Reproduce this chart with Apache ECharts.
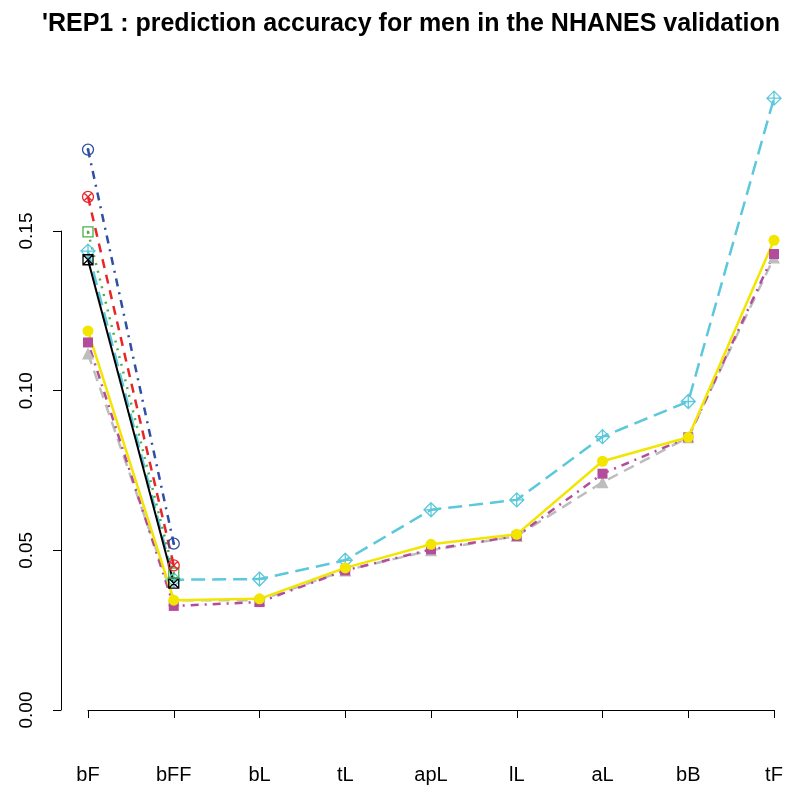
<!DOCTYPE html>
<html>
<head>
<meta charset="utf-8">
<script src="https://cdn.jsdelivr.net/npm/echarts@6/dist/echarts.min.js"></script>
<style>
  html, body { margin: 0; padding: 0; background: #fff; }
  #chart { width: 803px; height: 787px; }
</style>
</head>
<body>
<div id="chart"></div>
<script>
// categories and y ticks
var categories = ['bF', 'bFF', 'bL', 'tL', 'apL', 'lL', 'aL', 'bB', 'tF'];
var yTicks = [0, 0.05, 0.10, 0.15];

// series (short ones only reach bFF)
var blueVals    = [0.1755, 0.0521];
var redVals     = [0.1607, 0.0453];
var greenVals   = [0.1497, 0.0429];
var blackVals   = [0.1410, 0.0397];
var cyanVals    = [0.1437, 0.0408, 0.0410, 0.0469, 0.0627, 0.0658, 0.0856, 0.0966, 0.1916];
var grayVals    = [0.1116, 0.0344, 0.0344, 0.0437, 0.0500, 0.0545, 0.0713, 0.0854, 0.1417];
var magentaVals = [0.1151, 0.0326, 0.0338, 0.0437, 0.0503, 0.0545, 0.0740, 0.0854, 0.1428];
var yellowVals  = [0.1187, 0.0344, 0.0348, 0.0445, 0.0519, 0.0550, 0.0779, 0.0854, 0.1471];

// hollow R-like symbols
var symCircleDot = 'path://M0,10A10,10 0 1,1 20,10A10,10 0 1,1 0,10Z M8.5,10A1.5,1.5 0 1,1 11.5,10A1.5,1.5 0 1,1 8.5,10Z';
var symCircleX   = 'path://M0,10A10,10 0 1,1 20,10A10,10 0 1,1 0,10Z M2.93,2.93L17.07,17.07 M17.07,2.93L2.93,17.07';
var symSquareDot = 'path://M0,0H20V20H0Z M9,9H11V11H9Z';
var symDiamondPlus = 'path://M10,0L20,10L10,20L0,10Z M10,0V20 M0,10H20';
var symSquareX   = 'path://M0,0H20V20H0Z M0,0L20,20 M20,0L0,20';

function hollow(name, data, color, dash, symbol, size, width) {
    return {
        name: name,
        type: 'line',
        data: data,
        clip: false,
        symbol: symbol,
        symbolSize: size,
        showAllSymbol: true,
        lineStyle: { color: color, width: width || 2.5, type: dash },
        itemStyle: { color: 'rgba(0,0,0,0)', borderColor: color, borderWidth: 1.3 },
        emphasis: { disabled: true }
    };
}

function filled(name, data, color, dash, symbol, size) {
    return {
        name: name,
        type: 'line',
        data: data,
        clip: false,
        symbol: symbol,
        symbolSize: size,
        showAllSymbol: true,
        lineStyle: { color: color, width: 2.5, type: dash },
        itemStyle: { color: color, borderWidth: 0 },
        emphasis: { disabled: true }
    };
}

var chart = echarts.init(document.getElementById('chart'));

chart.setOption({
    animation: false,
    title: {
        text: "'REP1 : prediction accuracy for men in the NHANES validation",
        left: 37,
        top: 7,
        textStyle: {
            fontFamily: 'Liberation Sans, Arial, sans-serif',
            fontWeight: 'bold',
            fontSize: 25,
            color: '#000'
        }
    },
    grid: { left: 88, right: 29, top: 231, bottom: 77 },
    xAxis: {
        type: 'category',
        data: categories,
        boundaryGap: false,
        offset: 24,
        axisLine: { show: true, lineStyle: { color: '#000', width: 1 } },
        axisTick: { show: true, length: 8, inside: false, lineStyle: { color: '#000' } },
        axisLabel: {
            margin: 31,
            fontFamily: 'Liberation Sans, Arial, sans-serif',
            fontSize: 20,
            color: '#000'
        },
        splitLine: { show: false }
    },
    yAxis: {
        type: 'value',
        min: yTicks[0],
        max: yTicks[yTicks.length - 1],
        interval: 0.05,
        offset: 27,
        axisLine: { show: true, lineStyle: { color: '#000', width: 1 } },
        axisTick: { show: true, length: 8, lineStyle: { color: '#000' } },
        axisLabel: {
            rotate: 90,
            margin: 25,
            fontFamily: 'Liberation Sans, Arial, sans-serif',
            fontSize: 19,
            color: '#000',
            formatter: function (v) { return v.toFixed(2); }
        },
        splitLine: { show: false }
    },
    series: [
        hollow('cyan', cyanVals, '#5BC8DB', [14, 7], symDiamondPlus, 14),
        hollow('black', blackVals, '#000000', 'solid', symSquareX, 10, 2),
        hollow('green', greenVals, '#4DAF4A', [2, 6], symSquareDot, 10),
        hollow('red', redVals, '#E8262A', [9, 7], symCircleX, 11),
        hollow('blue', blueVals, '#2E4FA3', [8, 6, 2, 6], symCircleDot, 11),
        filled('gray', grayVals, '#BDBDBD', [11, 7], 'triangle', 12),
        filled('magenta', magentaVals, '#B44C9E', [2, 6, 8, 6], 'rect', 10),
        filled('yellow', yellowVals, '#F2E600', 'solid', 'circle', 11)
    ]
});
</script>
</body>
</html>
